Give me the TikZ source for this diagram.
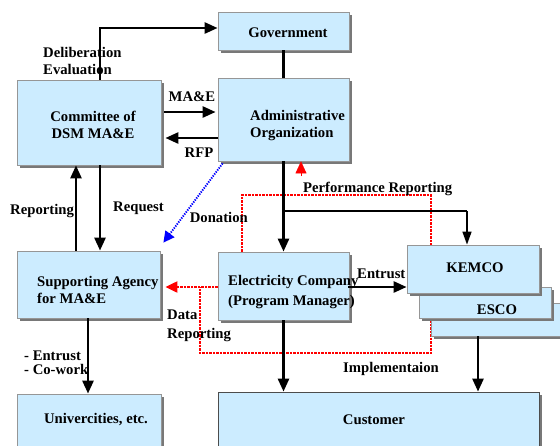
\documentclass[tikz,border=0pt]{standalone}
\usepackage{fontspec}
\setmainfont{Liberation Serif}
\usetikzlibrary{arrows.meta,shadows}
\definecolor{boxblue}{RGB}{204,236,255}
\definecolor{edgegray}{RGB}{150,150,150}
\definecolor{shadegray}{RGB}{120,120,120}
\definecolor{dotred}{RGB}{255,0,0}
\definecolor{dotblue}{RGB}{0,0,255}

\begin{document}
\begin{tikzpicture}[x=1pt,y=-1pt,
  box/.style={draw=edgegray, line width=0.8pt, fill=boxblue, inner sep=0pt,
    drop shadow={shadow xshift=2.8pt, shadow yshift=-2.8pt, fill=shadegray, opacity=1}},
  txt/.style={font=\fontsize{14.7}{17}\selectfont\bfseries, inner sep=0pt, align=left},
  main/.style={line width=2.6pt, -{Triangle[length=13pt,width=11pt]}},
  plainline/.style={line width=2.4pt},
  thinarrow/.style={line width=1.5pt, -{Triangle[length=13pt,width=9pt]}},
  reddot/.style={draw=dotred, line width=2.1pt, dash pattern=on 2.5pt off 1pt},
  redtip/.style={-{Triangle[length=12pt,width=11pt,fill=dotred]}},
  bluedot/.style={draw=dotblue, line width=1.9pt, dash pattern=on 1.3pt off 1.2pt,
    -{Triangle[length=11pt,width=11pt,fill=dotblue]}}
]
\useasboundingbox (0,0) rectangle (560,445);

% reference points for connector routing
\coordinate (kDelib) at (100,28);
\coordinate (kMAE) at (0,112);
\coordinate (kRFP) at (0,138);
\coordinate (kBranch) at (284,211);
\coordinate (kBranchR) at (467,211);
\coordinate (kUp) at (76,0);
\coordinate (kDown) at (100,0);
\coordinate (kUni) at (88,0);
\coordinate (kThird) at (478,0);
\coordinate (kRedL) at (242,195);
\coordinate (kRedR) at (431,195);
\coordinate (kRedB) at (431,353);
\coordinate (kRedJ) at (200,287);
\coordinate (kData) at (0,287);
\coordinate (kPerf) at (301,176);
\coordinate (kEntr) at (0,287);

% main boxes
\node[box, minimum width=131pt, minimum height=38pt] (gov) at (283.5,31) {};
\node[box, minimum width=144pt, minimum height=85pt] (com) at (89,122.5) {};
\node[box, minimum width=131pt, minimum height=83pt] (adm) at (283.5,119.5) {};
\node[box, minimum width=143pt, minimum height=67pt] (sup) at (88.5,284.5) {};
\node[box, minimum width=131pt, minimum height=68pt] (eco) at (283.5,286) {};
\node[box, minimum width=144pt, minimum height=66pt] (uni) at (89,427) {};
\node[box, draw=black!70, minimum width=321pt, minimum height=68pt] (cus) at (378.5,426) {};

% reporting loops (dotted red)
\draw[reddot] (eco.north -| kRedL) |- (kRedR) -- (kRedB) -| (kRedJ);
\draw[reddot, redtip] (eco.west |- kData) -- ([xshift=5pt]sup.east |- kData);
\draw[redtip, draw=dotred, line width=0.4pt] (kPerf) -- (adm.south -| kPerf);

% stacked contractor boxes
\node[box, minimum width=132pt, minimum height=33pt] (third) at (497,319.5) {};
\node[box, minimum width=132pt, minimum height=31pt] (esco) at (485,302.5) {};
\node[box, minimum width=132pt, minimum height=48pt] (kem) at (473,269) {};

% solid connectors
\draw[main] (com.north -| kDelib) |- (gov.west |- kDelib);
\draw[main] ([xshift=3pt]com.east |- kMAE) -- ([xshift=-2pt]adm.west |- kMAE);
\draw[main] (adm.west |- kRFP) -- ([xshift=4pt]com.east |- kRFP);
\draw[plainline] (gov.south) -- (adm.north);
\draw[main] (adm.south) -- (eco.north);
\draw[line width=2.2pt] (kBranch) -- (kBranchR);
\draw[thinarrow] (kBranchR) -- (kem.north -| kBranchR);
\draw[main] (sup.north -| kUp) -- (com.south -| kUp);
\draw[main] (com.south -| kDown) -- (sup.north -| kDown);
\draw[main] (sup.south -| kUni) -- (uni.north -| kUni);
\draw[main] (eco.south) -- (cus.north -| eco.south);
\draw[main] (third.south -| kThird) -- (cus.north -| kThird);
\draw[main] ([xshift=-1pt]eco.east |- kEntr) -- (kem.west |- kEntr);

% donation (dotted blue)
\draw[bluedot] ([xshift=5pt,yshift=-2pt]adm.south west) -- ([xshift=3pt,yshift=8pt]sup.north east);

% box texts
\node[txt] (tGov) at (288,33) {Government};
\node[txt, align=center] (tCom) at (93,125) {Committee of\\DSM MA\&E};
\node[txt, anchor=west] (tAdm) at (250,126) {Administrative\\Organization};
\node[txt, anchor=west] (tSup) at (37,290) {Supporting Agency\\for MA\&E};
\node[txt, anchor=west, font=\fontsize{14.7}{20}\selectfont\bfseries] (tEco) at (228,292) {Electricity Company\\(Program Manager)};
\node[txt] (tKem) at (475,268) {KEMCO};
\node[txt] (tEsco) at (497,310) {ESCO};
\node[txt] (tUni) at (96,420) {Univercities, etc.};
\node[txt] (tCus) at (374,420) {Customer};

% connector labels
\node[txt, anchor=west] (lDelib) at (43,61) {Deliberation\\Evaluation};
\node[txt] (lMAE) at (192,97) {MA\&E};
\node[txt] (lRFP) at (199,153) {RFP};
\node[txt, anchor=west] (lRep) at (10,211) {Reporting};
\node[txt, anchor=west] (lReq) at (113,208) {Request};
\node[txt, anchor=east] (lDon) at (248,217) {Donation};
\node[txt, anchor=west] (lPerf) at (303,189) {Performance Reporting};
\node[txt, anchor=west] (lEntr) at (357,274) {Entrust};
\node[txt, anchor=west, font=\fontsize{14.7}{19}\selectfont\bfseries] (lData) at (167,326) {Data\\Reporting};
\node[txt, anchor=west, font=\fontsize{14.7}{14.5}\selectfont\bfseries] (lWork) at (24,363) {- Entrust\\- Co-work};
\node[txt] (lImpl) at (391,369) {Implementaion};
\end{tikzpicture}
\end{document}
